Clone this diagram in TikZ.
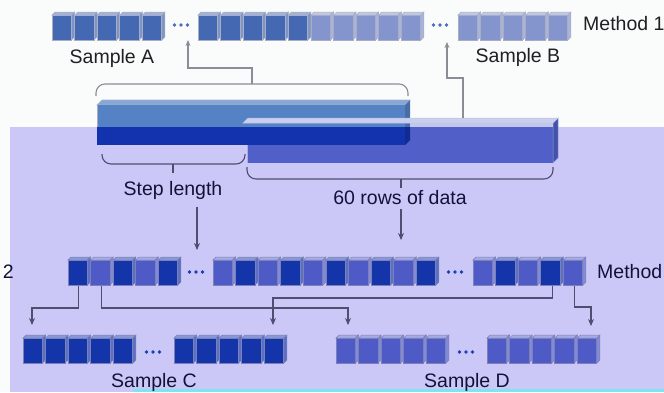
\documentclass[tikz,border=0pt]{standalone}
\usepackage{fontspec}
\setmainfont{Liberation Sans}
\usetikzlibrary{arrows.meta}

\definecolor{paper}{HTML}{FAFCFC}
\definecolor{lav}{HTML}{CBC8F8}
\definecolor{cyanstrip}{HTML}{80E4F0}
\definecolor{topdark}{HTML}{4468B2}
\definecolor{toplight}{HTML}{8494CC}
\definecolor{topedge}{HTML}{A9ADC4}
\definecolor{middark}{HTML}{1434AA}
\definecolor{midlight}{HTML}{4E5AC6}
\definecolor{midedge}{HTML}{7C80B8}
\definecolor{barhi}{HTML}{5482C4}
\definecolor{barlo}{HTML}{1232AE}
\definecolor{bartwo}{HTML}{5060C8}
\definecolor{lowline}{HTML}{4E4E70}
\definecolor{hiline}{HTML}{8C8C98}
\definecolor{hidot}{HTML}{4A6CC0}
\definecolor{lodot}{HTML}{1E3CC0}
\definecolor{hitext}{HTML}{202024}
\definecolor{lotext}{HTML}{121238}

% one 3-D cell: name, left x, top y, face colour, edge colour
\newcommand\cubeat[5]{%
  \filldraw[fill=#4!50!white, draw=#5, line width=0.5pt]
    (#2,#3+3) -- (#2+3,#3) -- (#2+22.5,#3) -- (#2+19.5,#3+3) -- cycle;
  \filldraw[fill=#4!70!white, draw=#5, line width=0.5pt]
    (#2+19.5,#3+3) -- (#2+22.5,#3) -- (#2+22.5,#3+25) -- (#2+19.5,#3+28) -- cycle;
  \node[cubeface, fill=#4, draw=#5] (#1) at (#2+9.75,#3+15.5) {};
}
% three small dots standing for omitted cells: name, x, y, colour
\newcommand\dotsat[4]{%
  \coordinate (#1) at (#2,#3);
  \foreach \d in {-6.5,0,6.5} \fill[#4] (#2+\d,#3) circle (1.8);
}

\begin{document}
\begin{tikzpicture}[x=1pt,y=-1pt,
  cubeface/.style={rectangle, minimum width=19.5pt, minimum height=25pt, inner sep=0pt, line width=1pt},
  bigtext/.style={font=\fontsize{19.5}{22}\selectfont, inner sep=0pt, anchor=base},
  hiconn/.style={draw=hiline, line width=1.1pt, -{Stealth[length=6pt,width=5pt]}},
  loconn/.style={draw=lowline, line width=1.1pt, -{Stealth[length=7pt,width=6pt]}},
  hibrace/.style={draw=hiline, line width=1.1pt, rounded corners=9pt},
  lobrace/.style={draw=lowline, line width=1.1pt, rounded corners=9pt},
  lotick/.style={draw=lowline, line width=1.1pt},
  hitick/.style={draw=hiline, line width=1.1pt}]
\useasboundingbox (0,0) rectangle (664,392);

% backgrounds
\fill[paper] (0,0) rectangle (664,392);
\fill[lav] (10,127) rectangle (664,392);
\fill[cyanstrip] (133,389) rectangle (664,392);

% ---------------- top row (Method 1)
\foreach \i [evaluate=\i as \x using 52+(\i-1)*22.6] in {1,...,5}
  {\cubeat{a\i}{\x}{12}{topdark}{topedge}}
\dotsat{dotsA}{181}{25}{hidot}
\foreach \i [evaluate=\i as \x using 198+(\i-1)*22.6] in {1,...,5}
  {\cubeat{b\i}{\x}{12}{topdark}{topedge}}
\foreach \i [evaluate=\i as \x using 311+(\i-1)*22.6] in {1,...,5}
  {\cubeat{c\i}{\x}{12}{toplight}{topedge}}
\dotsat{dotsB}{440}{25}{hidot}
\foreach \i [evaluate=\i as \x using 458+(\i-1)*22.6] in {1,...,5}
  {\cubeat{d\i}{\x}{12}{toplight}{topedge}}

\node[bigtext, text=hitext] (sampA) at (112,63) {Sample A};
\node[bigtext, text=hitext] (sampB) at (518,62) {Sample B};
\node[bigtext, text=hitext, anchor=base west] (meth1) at (583,30) {Method 1};

% ---------------- the two long bars
% 60 rows of data (back bar)
\fill[bartwo] (247,123) rectangle (553,163);
\filldraw[fill=bartwo!85!black, draw=bartwo!60!white, line width=0.5pt]
  (553,123) -- (558,118) -- (558,158) -- (553,163) -- cycle;
\draw[bartwo!50!white, line width=0.8pt] (247,127) -- (247,163);
% step bar (front)
\filldraw[fill=barhi!70!white, draw=topedge, line width=0.6pt]
  (97,105) -- (102,100) -- (410,100) -- (405,105) -- cycle;
\fill[barhi] (97,105) rectangle (405,127);
\fill[barlo] (97,127) rectangle (405,145);
\draw[topedge, line width=0.8pt] (97,105) -- (97,127);
\fill[barhi!85!black] (405,105) -- (410,100) -- (410,127) -- (405,127) -- cycle;
\fill[barlo!85!black] (405,127) -- (410,127) -- (410,140) -- (405,145) -- cycle;
% top edge of the back bar
\filldraw[fill=bartwo!30!white, draw=bartwo!40!white, line width=0.5pt]
  (243,123) -- (248,118) -- (558,118) -- (553,123) -- cycle;
\fill[bartwo!35!white] (410,123) rectangle (553,127);

% braces
\draw[hibrace] (96,96) -- (96,84) -- (408,84) -- (408,96);
\coordinate (braceTop) at (252,84);
\draw[lobrace] (102,154) -- (102,164) -- (245,164) -- (245,154);
\coordinate (stepTick) at (173,164);
\draw[lotick] (stepTick) -- ++(0,9);
\draw[lobrace] (247,167) -- (247,179) -- (553,179) -- (553,167);
\coordinate (rowsTick) at (401,179);
\draw[lotick] (rowsTick) -- ++(0,9);

\node[bigtext, text=lotext] (steplab) at (173,195) {Step length};
\node[bigtext, text=lotext] (rowslab) at (400,204) {60 rows of data};

% connectors up to the top row
\coordinate (tipA) at (188,40);
\draw[hiconn] (braceTop) -- (252,68) -| (tipA);
\coordinate (barTop) at (463,118);
\coordinate (tipB) at (447,42);
\draw[hiconn] (barTop) -- (463,78) -| (tipB);

% ---------------- middle row (Method 2)
\foreach \i [evaluate=\i as \x using 68+(\i-1)*22.6] in {1,...,5}
  {\ifodd\i\def\cc{middark}\else\def\cc{midlight}\fi
   \cubeat{m\i}{\x}{257}{\cc}{midedge}}
\dotsat{dotsM}{196}{272}{lodot}
\foreach \i [evaluate=\i as \x using 213+(\i-1)*22.6] in {1,...,10}
  {\ifodd\i\def\cc{midlight}\else\def\cc{middark}\fi
   \cubeat{n\i}{\x}{257}{\cc}{midedge}}
\dotsat{dotsN}{455}{272}{lodot}
\foreach \i [evaluate=\i as \x using 473+(\i-1)*22.6] in {1,...,5}
  {\ifodd\i\def\cc{midlight}\else\def\cc{middark}\fi
   \cubeat{p\i}{\x}{257}{\cc}{midedge}}

\node[bigtext, text=lotext, anchor=base west] (meth2) at (597,278) {Method};
\node[bigtext, text=lotext, anchor=base east] (methL) at (14,278) {2};

% connectors down to the middle row
\coordinate (stepFoot) at (197,207);
\coordinate (stepTip) at (197,250);
\draw[loconn] (stepFoot) -- (stepTip);
\coordinate (rowsFoot) at (401,209);
\coordinate (rowsTip) at (401,240);
\draw[loconn] (rowsFoot) -- (rowsTip);

% ---------------- bottom row
\foreach \i [evaluate=\i as \x using 23+(\i-1)*22.6] in {1,...,5}
  {\cubeat{q\i}{\x}{335}{middark}{midedge}}
\dotsat{dotsC}{153}{352}{lodot}
\foreach \i [evaluate=\i as \x using 174+(\i-1)*22.6] in {1,...,5}
  {\cubeat{r\i}{\x}{335}{middark}{midedge}}
\foreach \i [evaluate=\i as \x using 336+(\i-1)*22.6] in {1,...,5}
  {\cubeat{s\i}{\x}{335}{midlight}{midedge}}
\dotsat{dotsD}{466}{352}{lodot}
\foreach \i [evaluate=\i as \x using 487+(\i-1)*22.6] in {1,...,5}
  {\cubeat{t\i}{\x}{335}{midlight}{midedge}}

\node[bigtext, text=lotext] (sampC) at (154,387) {Sample C};
\node[bigtext, text=lotext] (sampD) at (467,387) {Sample D};

% sampling connectors from the middle row
\coordinate (tipC1) at (32,325);
\draw[loconn] ([xshift=1pt]m1.south) |- (60,308) -| (tipC1);
\coordinate (tipD1) at (348,325);
\draw[loconn] ([xshift=1pt]m2.south) |- (300,308) -| (tipD1);
\coordinate (tipC2) at (273,325);
\draw[loconn] ([xshift=2pt]p4.south) |- (400,298) -| (tipC2);
\coordinate (tipD2) at (591,326);
\draw[loconn] ([xshift=1pt]p5.south) |- (585,307) -| (tipD2);
\end{tikzpicture}
\end{document}
